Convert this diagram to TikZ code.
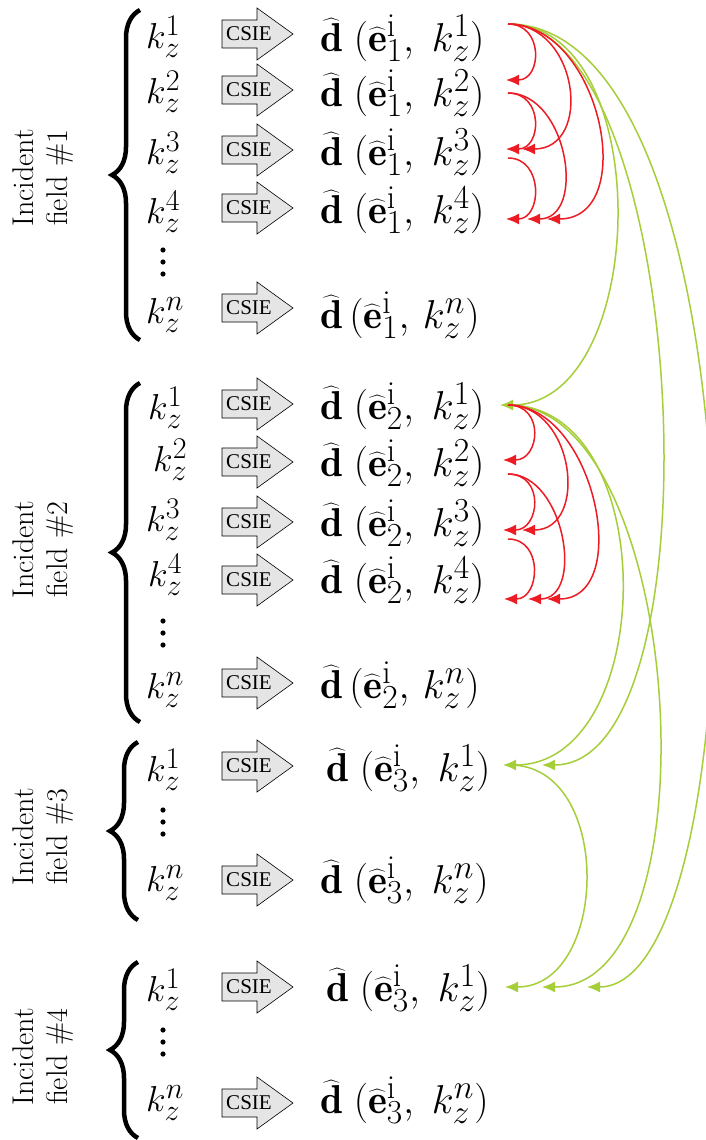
\documentclass[tikz,border=0pt]{standalone}
\usepackage{graphicx}
\usepackage{fontspec}
\newfontfamily\csiefont{Liberation Serif}
\usetikzlibrary{arrows.meta,decorations.pathreplacing}
\definecolor{arcred}{HTML}{ED1C24}
\definecolor{arcgreen}{HTML}{A6CE39}
\newcommand\Dhat{\widehat{\mathbf{d}}}
\newcommand\Ehat{\widehat{\mathbf{e}}}
\newcommand\ExpScale{\scalebox{1.62}}
\newcommand\KScale{\scalebox{1.45}}
\newcommand\Dexp[2]{\ExpScale{$\Dhat\;(\Ehat^{\mathrm{i}}_{#1},\;k_z^{#2})$}}
\newcommand\Dtight[2]{\ExpScale{$\Dhat\,(\Ehat^{\mathrm{i}}_{#1},\,k_z^{#2})$}}
\newcommand\Kz[1]{\KScale{$k_z^{#1}$}}
\begin{document}
\begin{tikzpicture}[x=1pt,y=-1pt,
  kz/.style={font=\fontsize{24.88}{30}\selectfont, inner sep=0pt, anchor=west},
  dexp/.style={font=\fontsize{24.88}{30}\selectfont, inner sep=0pt, anchor=west},
  csiearrow/.pic={
    \filldraw[draw=black, line width=0.6pt, fill=black!10]
      (-28,-14) -- (7,-14) -- (7,-26) -- (43,0) -- (7,26) -- (7,14) -- (-28,14) -- cycle;
    \node[font=\csiefont\fontsize{21}{21}\selectfont, inner sep=0pt] (-t) at (-1,0) {CSIE};
  },
  lab/.style={rotate=90, align=center, font=\fontsize{30}{34}\selectfont},
  br/.style={decorate, decoration={brace, amplitude=28pt}, line width=4.5pt},
  redarc/.style={draw=arcred, line width=1.5pt, -{Latex[length=13pt,width=11pt]}},
  greenarc/.style={draw=arcgreen, line width=1.5pt, -{Latex[length=13pt,width=11pt]}}
]
\fill[white] (0,0) rectangle (705,1140);
\useasboundingbox (0,0) rectangle (705,1140);

% labels
\node[lab] (L1) at (43,178) {Incident\\field \#1};
\node[lab] (L2) at (43,550) {Incident\\field \#2};
\node[lab] (L3) at (43,837) {Incident\\field \#3};
\node[lab] (L4) at (43,1057) {Incident\\field \#4};

% braces
\draw[br] (140,340) -- (140,10);
\draw[br] (140,722) -- (140,383);
\draw[br] (138,920) -- (138,742);
\draw[br] (138,1138) -- (138,962);

% rows
\foreach \nm/\kx/\ky/\cy/\dx/\dy/\g/\s in {
  11/146/37/34/320/38/1/1, 12/146/92/90/320/93/1/2,
  13/146/153/150/320/152/1/3, 14/146/212/208/320/210/1/4,
  21/148/408/404/320/406/2/1, 22/153/460/462/320/463/2/2,
  23/146/520/522/320/523/2/3, 24/148/575/580/320/580/2/4,
  31/146/770/766/326/768/3/1, 41/146/990/987/326/988/3/1}
{
  \node[kz] (k\nm) at (\kx,\ky) {\Kz{\s}};
  \pic (c\nm) at (250,\cy) {csiearrow};
  \node[dexp] (d\nm) at (\dx,\dy) {\Dexp{\g}{\s}};
}
\node[kz] (k1n) at (146,315) {\Kz{n}};
\pic (c1n) at (250,308) {csiearrow};
\node[dexp] (d1n) at (320,315) {\Dtight{1}{n}};
\node[kz] (k2n) at (146,690) {\Kz{n}};
\pic (c2n) at (250,683) {csiearrow};
\node[dexp] (d2n) at (320,685) {\Dtight{2}{n}};
\node[kz] (k3n) at (146,883) {\Kz{n}};
\pic (c3n) at (250,880) {csiearrow};
\node[dexp] (d3n) at (320,880) {\Dexp{3}{n}};
\node[kz] (k4n) at (146,1103) {\Kz{n}};
\pic (c4n) at (250,1103) {csiearrow};
\node[dexp] (d4n) at (320,1100) {\Dexp{3}{n}};

% vertical dots
\foreach \y in {262,633,822,1042}
  \foreach \dd in {-12,0,12}
    \fill (163,\y+\dd) circle (2.6pt);

% arc end points
\coordinate (a1) at (508,24);  \coordinate (a2) at (508,93);  \coordinate (a3) at (508,158);
\coordinate (t12) at (506,80); \coordinate (t13) at (522,149); \coordinate (t23) at (506,149);
\coordinate (t14) at (547,219); \coordinate (t24) at (527,219); \coordinate (t34) at (506,219);
\coordinate (b1) at (508,405); \coordinate (b2) at (508,474); \coordinate (b3) at (508,539);
\coordinate (u12) at (503,460); \coordinate (u13) at (522,530); \coordinate (u23) at (503,530);
\coordinate (u14) at (547,599); \coordinate (u24) at (528,599); \coordinate (u34) at (504,599);
\coordinate (v2) at (500,405);
\coordinate (w1) at (503,765); \coordinate (w2) at (542,765); \coordinate (s3) at (510,765);
\coordinate (x1) at (505,987); \coordinate (x2) at (542,987); \coordinate (x3) at (587,987);

% green arcs
\draw[greenarc] (a1) .. controls +(150,0) and +(150,0) .. (v2);
\draw[greenarc] (a1) .. controls +(181,0) and +(181,0) .. (w2);
\draw[greenarc] (a1) .. controls +(260,0) and +(175,0) .. (x3);
\draw[greenarc] (b1) .. controls +(155,0) and +(155,0) .. (w1);
\draw[greenarc] (b1) .. controls +(177,0) and +(177,0) .. (x2);
\draw[greenarc] (s3) .. controls +(104,0) and +(104,0) .. (x1);

% red arcs group 1
\draw[redarc] (a1) .. controls +(36,0) and +(36,0) .. (t12);
\draw[redarc] (a1) .. controls +(71,0) and +(71,0) .. (t13);
\draw[redarc] (a1) .. controls +(93,0) and +(93,0) .. (t14);
\draw[redarc] (a2) .. controls +(36,0) and +(36,0) .. (t23);
\draw[redarc] (a2) .. controls +(60,0) and +(60,0) .. (t24);
\draw[redarc] (a3) .. controls +(36,0) and +(36,0) .. (t34);
% red arcs group 2
\draw[redarc] (b1) .. controls +(37,0) and +(37,0) .. (u12);
\draw[redarc] (b1) .. controls +(67,0) and +(67,0) .. (u13);
\draw[redarc] (b1) .. controls +(87,0) and +(87,0) .. (u14);
\draw[redarc] (b2) .. controls +(37,0) and +(37,0) .. (u23);
\draw[redarc] (b2) .. controls +(57,0) and +(57,0) .. (u24);
\draw[redarc] (b3) .. controls +(36,0) and +(36,0) .. (u34);
\end{tikzpicture}
\end{document}
